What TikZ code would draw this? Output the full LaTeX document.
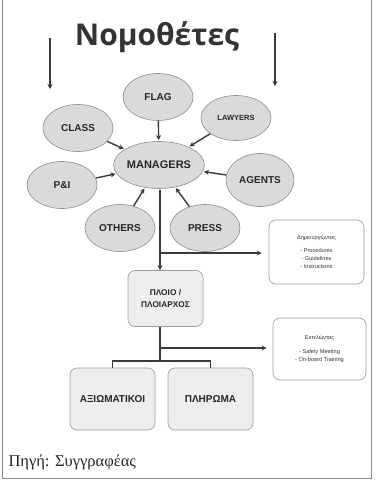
\documentclass[tikz,border=0pt]{standalone}
\usepackage{fontspec}
\setmainfont{Liberation Sans}
\newfontfamily\titlefont{Open Sans}
\newfontfamily\serifgr{Liberation Serif}
\usetikzlibrary{shapes.geometric,arrows.meta}
\definecolor{lineclr}{HTML}{3A3A3A}
\definecolor{ovalfill}{HTML}{DADADA}
\definecolor{ovaldraw}{HTML}{8C8C8C}
\definecolor{boxfill}{HTML}{EEEEEE}
\definecolor{boxdraw}{HTML}{9A9A9A}
\definecolor{frameclr}{HTML}{8A8A8A}
\tikzset{
  oval/.style={ellipse, draw=ovaldraw, fill=ovalfill, line width=0.6pt,
    minimum width=70pt, minimum height=47pt, inner sep=0pt,
    font=\bfseries\fontsize{10}{12}\selectfont, text=black!85},
  rolebox/.style={draw=boxdraw, fill=boxfill, rounded corners=7pt, line width=0.6pt,
    inner sep=0pt, align=center, font=\bfseries, text=black!85},
  notebox/.style={draw=boxdraw, fill=white, rounded corners=7pt, line width=0.6pt,
    inner sep=0pt, align=center, font=\fontsize{5.6}{8}\selectfont, text=black!80},
  link/.style={draw=lineclr, line width=1.4pt},
  arr/.style={link, -{Stealth[length=5pt,width=5pt]}},
}
\begin{document}
\begin{tikzpicture}[x=1pt,y=-1pt]
\useasboundingbox (0,0) rectangle (375,484);
\fill[white] (0,0) rectangle (375,484);
% outer frame
\draw[frameclr, line width=1pt] (2.5,0) -- (2.5,478) -- (371,478) -- (371,0);

% heading and the two incoming arrows
\node[font=\titlefont\bfseries\fontsize{30}{34}\selectfont, text=black!80] (title) at (157,37) {Νομοθέτες};
\coordinate (lt) at (50,38);
\coordinate (lb) at (50,89);
\coordinate (rt) at (275,33);
\coordinate (rb) at (275,86);
\draw[arr] (lt) -- (lb);
\draw[arr] (rt) -- (rb);

% stakeholders around the managers
\node[oval] (mgr) at (159,165) {\fontsize{11}{12}\selectfont MANAGERS};
\node[oval] (flag) at (158,97) {FLAG};
\node[oval] (class) at (78,128) {CLASS};
\node[oval, minimum height=45pt] (law) at (236,118) {\fontsize{7.5}{9}\selectfont LAWYERS};
\node[oval] (pi) at (62,185) {P\&I};
\node[oval, minimum width=68pt, minimum height=53pt] (agents) at (260,180) {AGENTS};
\node[oval] (others) at (120,228) {OTHERS};
\node[oval] (press) at (205,228) {PRESS};

\foreach \s in {flag,class,law,pi,agents,others,press}
  \draw[arr, shorten >=1pt] (\s) -- (mgr);

% chain of command
\node[rolebox, minimum width=75pt, minimum height=56pt,
  font=\bfseries\fontsize{8.3}{12}\selectfont] (ship) at (165.5,298.5) {ΠΛΟΙΟ /\\ΠΛΟΙΑΡΧΟΣ};
\node[rolebox, minimum width=85pt, minimum height=62pt,
  font=\bfseries\fontsize{10}{12}\selectfont] (off) at (112.5,399) {ΑΞΙΩΜΑΤΙΚΟΙ};
\node[rolebox, minimum width=85pt, minimum height=62pt,
  font=\bfseries\fontsize{10}{12}\selectfont] (crew) at (210.5,399) {ΠΛΗΡΩΜΑ};

% side notes
\node[notebox, minimum width=95pt, minimum height=64pt] (create) at (316.5,252)
  {Δημιουργώντας\\[5pt]- Procedures\\- Guidelines\\- Instructions};
\node[notebox, minimum width=93pt, minimum height=62pt] (exec) at (319.5,349)
  {Εκτελώντας\\[6pt]- Safety Meeting\\- On-board Training};

\coordinate (m0) at (160,190);
\coordinate (b1) at (160,253);
\coordinate (s0) at (160,327);
\coordinate (b2) at (160,348);
\coordinate (t0) at (160,361);
\coordinate (tl) at (112.5,361);
\coordinate (tr) at (210.5,361);

\draw[arr] (m0) -- (m0 |- ship.north);
\draw[arr, shorten >=7pt] (b1) -- (b1 -| create.west);
\draw[link] (s0) -- (t0);
\draw[arr, shorten >=6pt] (b2) -- (b2 -| exec.west);
\draw[link] (off.north) -- (tl) -- (tr) -- (crew.north);

% source line
\node[anchor=base west, font=\serifgr\fontsize{16.5}{18}\selectfont, text=black!85] (src) at (5,466) {Πηγή: Συγγραφέας};
\end{tikzpicture}
\end{document}
